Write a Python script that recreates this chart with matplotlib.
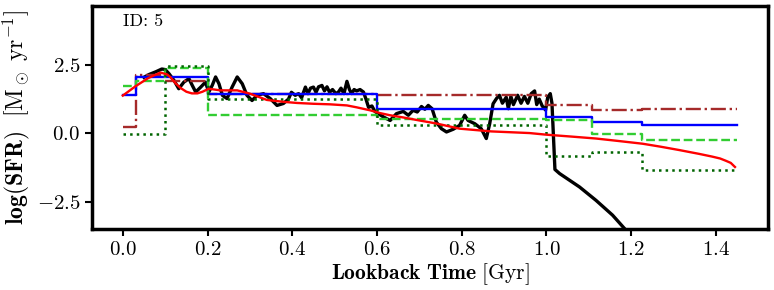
import numpy as np
import matplotlib
matplotlib.use("Agg")
import matplotlib.pyplot as plt

plt.rcParams['font.family'] = 'serif'
plt.rcParams['font.serif'] = ['cmr10']
plt.rcParams['mathtext.fontset'] = 'cm'
plt.rcParams['axes.formatter.use_mathtext'] = True

# bin edges of the step models (Gyr)
bin_edges = [0.0, 0.03, 0.1, 0.2, 0.6, 1.0, 1.107, 1.226, 1.45]

# step SFHs (one value per bin)
sfh_blue = [1.39, 2.05, 2.05, 1.45, 0.90, 0.60, 0.41, 0.29]
sfh_brown = [0.23, 2.13, 1.93, 1.42, 1.39, 1.02, 0.84, 0.90]
sfh_dashed = [1.72, 1.91, 2.40, 0.66, 0.54, 0.47, -0.01, -0.26]
sfh_dotted = [-0.03, -0.03, 2.46, 1.25, 0.29, -0.84, -0.68, -1.33]

# smooth model (red)
red_t = [0.0, 0.03, 0.06, 0.089, 0.105, 0.113, 0.125, 0.136, 0.150, 0.163,
         0.176, 0.188, 0.203, 0.23, 0.27, 0.30, 0.34, 0.38, 0.411, 0.45,
         0.489, 0.529, 0.552, 0.584, 0.607, 0.631, 0.662, 0.70, 0.74, 0.795,
         0.87, 0.96, 1.0, 1.06, 1.117, 1.17, 1.227, 1.27, 1.313, 1.36,
         1.391, 1.41, 1.423, 1.435, 1.445]
red_sfr = [1.38, 1.72, 2.02, 2.22, 2.15, 2.04, 1.82, 1.66, 1.52, 1.46,
           1.46, 1.52, 1.63, 1.57, 1.57, 1.45, 1.22, 1.15, 1.11, 1.08,
           1.06, 1.02, 0.95, 0.84, 0.74, 0.66, 0.58, 0.47, 0.36, 0.17,
           0.07, 0.01, -0.05, -0.12, -0.19, -0.28, -0.38, -0.49, -0.61, -0.75,
           -0.85, -0.92, -1.0, -1.08, -1.23]

# simulated SFH (black)
sim_t = [0.050, 0.062, 0.078, 0.092, 0.100, 0.109, 0.121, 0.132, 0.144, 0.156,
         0.164, 0.172, 0.184, 0.195, 0.203, 0.211, 0.219, 0.227, 0.235, 0.246,
         0.258, 0.270, 0.282, 0.293, 0.305, 0.317, 0.332, 0.348, 0.364, 0.379,
         0.391, 0.398, 0.407, 0.415, 0.422, 0.431, 0.437, 0.443, 0.450, 0.456,
         0.462, 0.470, 0.476, 0.482, 0.488, 0.495, 0.503, 0.509, 0.515, 0.522,
         0.529, 0.535, 0.540, 0.546, 0.552, 0.560, 0.568, 0.574, 0.580, 0.588,
         0.595, 0.605, 0.615, 0.631, 0.646, 0.662, 0.674, 0.685, 0.695, 0.705,
         0.713, 0.721, 0.730, 0.740, 0.752, 0.764, 0.780, 0.795, 0.807, 0.815,
         0.831, 0.846, 0.854, 0.858, 0.866, 0.874, 0.882, 0.889, 0.896, 0.905,
         0.910, 0.916, 0.922, 0.932, 0.940, 0.948, 0.956, 0.964, 0.972, 0.977,
         0.983, 0.990, 0.998, 1.003, 1.009, 1.013, 1.020, 1.031, 1.078, 1.117,
         1.156, 1.190, 1.200]
sim_sfr = [2.05, 2.15, 2.25, 2.35, 2.33, 2.18, 1.93, 1.63, 1.87, 2.00,
           1.75, 1.51, 1.69, 1.87, 1.51, 1.75, 2.06, 1.81, 1.39, 1.27,
           1.69, 2.06, 1.81, 1.39, 1.20, 1.39, 1.45, 1.27, 1.02, 1.09,
           1.25, 1.50, 1.39, 1.45, 1.30, 1.69, 1.45, 1.65, 1.69, 1.50,
           1.70, 1.75, 1.55, 1.70, 1.50, 1.60, 1.45, 1.51, 1.65, 1.45,
           1.90, 1.60, 1.45, 1.60, 1.55, 1.60, 1.51, 1.25, 0.95, 1.00,
           0.80, 0.70, 0.60, 0.47, 0.72, 0.80, 0.66, 0.84, 0.78, 0.98,
           0.88, 1.02, 0.90, 0.41, 0.17, 0.05, 0.15, 0.29, 0.66, 0.47,
           0.35, 0.17, -0.07, -0.19, 0.35, 1.08, 1.27, 1.39, 1.10, 1.32,
           0.90, 1.35, 1.05, 1.39, 1.10, 1.35, 1.10, 1.45, 1.55, 1.05,
           1.25, 1.00, 0.85, 1.32, 1.45, 1.10, -1.32, -1.47, -1.96, -2.45,
           -2.99, -3.58, -3.75]


def steps(values):
    return np.array(bin_edges), np.append(values, values[-1])


fig = plt.figure(figsize=(7.74, 2.9), dpi=100)
ax = fig.add_axes([0.119, 0.21, 0.873, 0.769])

ax.plot(sim_t, sim_sfr, color='black', lw=2.4, zorder=2)
x, y = steps(sfh_brown)
ax.step(x, y, where='post', color='brown', ls='-.', lw=1.7, zorder=3)
x, y = steps(sfh_blue)
ax.step(x, y, where='post', color='blue', ls='-', lw=1.7, zorder=3)
x, y = steps(sfh_dashed)
ax.step(x, y, where='post', color='limegreen', ls='--', lw=1.7, zorder=3)
x, y = steps(sfh_dotted)
ax.step(x, y, where='post', color='darkgreen', ls=':', lw=1.8, zorder=3)
ax.plot(red_t, red_sfr, color='red', lw=1.7, zorder=4)

ax.set_xlim(-0.0725, 1.5225)
ax.set_ylim(-3.5, 4.65)
ax.set_yticks([-2.5, 0.0, 2.5])
ax.set_xticks([0.0, 0.2, 0.4, 0.6, 0.8, 1.0, 1.2, 1.4])
ax.xaxis.set_major_formatter(matplotlib.ticker.FormatStrFormatter('$%.1f$'))
ax.yaxis.set_major_formatter(matplotlib.ticker.FormatStrFormatter('$%.1f$'))
ax.tick_params(labelsize=15, width=1.5, length=5)
for s in ax.spines.values():
    s.set_linewidth(2.5)

ax.set_xlabel(r'$\mathbf{Lookback\ Time}\ [\mathrm{Gyr}]$', fontsize=15.5, labelpad=2)
ax.set_ylabel(r'$\mathbf{log(SFR)}\ \ [\mathrm{M}_\odot\ \mathrm{yr}^{\mathbf{-1}}]$',
              fontsize=17, labelpad=3)
ax.text(0.045, 0.93, 'ID: 5', transform=ax.transAxes, fontsize=13,
        va='center', ha='left')

fig.savefig('out.png', dpi=100)
